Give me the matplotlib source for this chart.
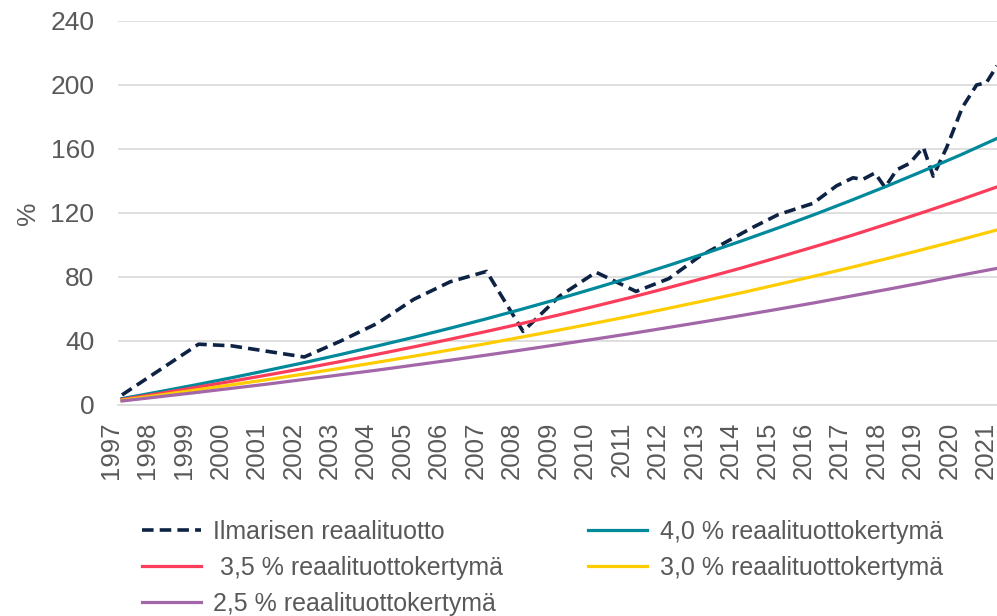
import numpy as np
import matplotlib
matplotlib.use('Agg')
import matplotlib.pyplot as plt
import matplotlib.transforms as mtransforms

plt.rcParams['font.family'] = ['Liberation Sans', 'DejaVu Sans']

# vuodet (x-akselin nimiöt)
years = list(range(1997, 2022))

# Ilmarisen reaalituotto, kumulatiivinen % (luettu kuvasta)
ilm_x = [1997.0, 1999.1, 2000.0, 2002.0, 2003.0, 2004.0, 2005.0, 2006.0, 2007.0,
         2008.0, 2009.0, 2010.0, 2011.1, 2012.0, 2012.85, 2013.5, 2014.3, 2015.0,
         2015.95, 2016.6, 2017.05, 2017.32, 2017.65, 2017.93, 2018.25, 2018.6,
         2018.98, 2019.25, 2019.62, 2020.05, 2020.44, 2020.71, 2021.0]
ilm_y = [6.3, 38.0, 37.0, 30.0, 40.0, 51.0, 66.0, 77.0, 83.5,
         46.0, 68.0, 83.0, 71.0, 79.0, 93.0, 101.0, 111.0, 119.0,
         126.0, 137.0, 142.0, 141.0, 145.0, 136.0, 147.0, 151.0,
         161.0, 143.0, 161.0, 186.0, 200.0, 201.5, 212.0]

# reaalituottokertymät vuosittain
r40 = [4.0, 8.2, 12.5, 17.0, 21.7, 26.5, 31.6, 36.9, 42.3, 48.0, 53.9, 60.1, 66.5,
       73.2, 80.1, 87.3, 94.8, 102.6, 110.7, 119.1, 127.9, 137.0, 146.5, 156.3, 166.6]
r35 = [3.5, 7.1, 10.9, 14.8, 18.8, 22.9, 27.2, 31.7, 36.3, 41.1, 46.0, 51.1, 56.4,
       61.9, 67.5, 73.4, 79.5, 85.7, 92.3, 99.0, 105.9, 113.2, 120.6, 128.3, 136.3]
r30 = [3.0, 6.1, 9.3, 12.6, 15.9, 19.4, 23.0, 26.7, 30.5, 34.4, 38.4, 42.6, 46.9,
       51.3, 55.8, 60.5, 65.3, 70.2, 75.4, 80.6, 86.0, 91.6, 97.4, 103.3, 109.4]
r25 = [2.5, 5.1, 7.7, 10.4, 13.1, 16.0, 18.9, 21.8, 24.9, 28.0, 31.2, 34.5, 37.9,
       41.3, 44.8, 48.5, 52.2, 56.0, 59.9, 63.9, 68.1, 72.3, 76.6, 81.1, 85.4]

fig = plt.figure(figsize=(9.97, 6.16), dpi=100)
ax = fig.add_axes([118/997, 1-405/616, 1-118/997, (405-21)/616])

l_ilm, = ax.plot(ilm_x, ilm_y, color='#0e2244', lw=2.6, linestyle=(0, (3.2, 1.7)),
                 label='Ilmarisen reaalituotto')
l40, = ax.plot(years, r40, color='#00899a', lw=2.3, label='4,0 % reaalituottokertymä')
l35, = ax.plot(years, r35, color='#fb3c5a', lw=2.3, label=' 3,5 % reaalituottokertymä')
l30, = ax.plot(years, r30, color='#ffcc00', lw=2.3, label='3,0 % reaalituottokertymä')
l25, = ax.plot(years, r25, color='#a366a8', lw=2.3, label='2,5 % reaalituottokertymä')

ax.set_ylim(0, 240)
ax.set_xlim(1996.89, 2021.0)
ax.set_yticks(range(0, 241, 40))
ax.set_xticks(years)
ax.set_xticklabels([str(y) for y in years], rotation=90)
ax.grid(axis='y', color='#d9d9d9', lw=1.2)
ax.set_axisbelow(True)
for s in ['top', 'right', 'left']:
    ax.spines[s].set_visible(False)
ax.spines['bottom'].set_color('#d9d9d9')
ax.spines['bottom'].set_linewidth(1.2)
ax.tick_params(axis='both', length=0, colors='#595959')
ax.tick_params(axis='y', labelsize=19, pad=17)
ax.tick_params(axis='x', labelsize=18.5, pad=12)

# nimiöt hieman vasemmalle kuten alkuperäisessä
off = mtransforms.ScaledTranslation(-11/100, 0, fig.dpi_scale_trans)
for lab in ax.get_xticklabels():
    lab.set_transform(lab.get_transform() + off)

ax.set_ylabel('%', fontsize=19, color='#595959')
ax.yaxis.set_label_coords(-78/879, 0.5)

handles = [l_ilm, l35, l25, l40, l30]
fig.legend(handles=handles, labels=[h.get_label() for h in handles],
           loc='upper left', bbox_to_anchor=(142/997, 1-520/616), ncol=2,
           frameon=False, fontsize=18, labelcolor='#595959',
           handlelength=2.35, handletextpad=0.5, columnspacing=3.4,
           labelspacing=0.48, borderpad=0, borderaxespad=0)

fig.savefig('out.png', dpi=100)
